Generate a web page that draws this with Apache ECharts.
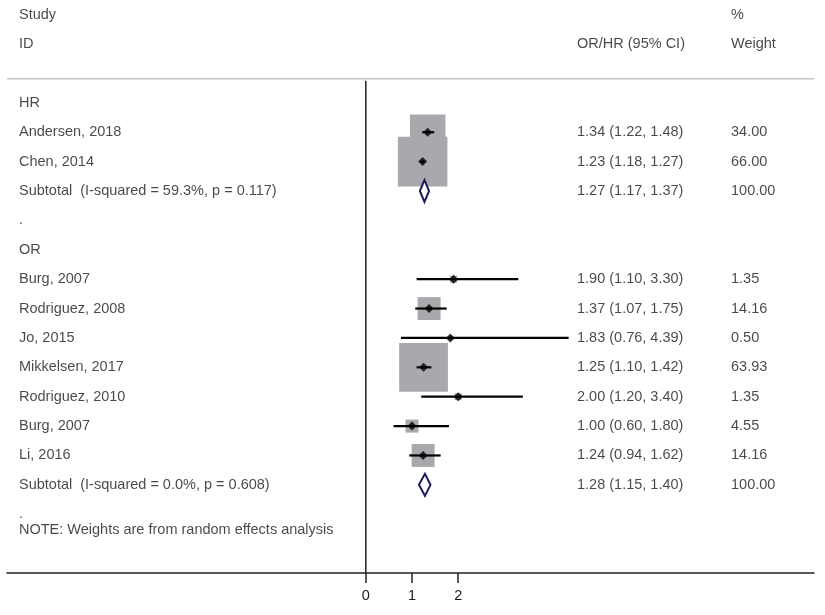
<!DOCTYPE html>
<html>
<head>
<meta charset="utf-8">
<script src="https://cdn.jsdelivr.net/npm/echarts@6/dist/echarts.min.js"></script>
<style>
  html, body { margin: 0; padding: 0; background: #fff; }
  #chart { width: 825px; height: 615px; }
</style>
</head>
<body>
<div id="chart"></div>
<script>
// study rows
const studies = ['Andersen, 2018', 'Chen, 2014', 'Burg, 2007', 'Rodriguez, 2008', 'Jo, 2015',
                 'Mikkelsen, 2017', 'Rodriguez, 2010', 'Burg, 2007', 'Li, 2016']
const studyRows = [1, 2, 6, 7, 8, 9, 10, 11, 12]
const estimate = [1.34, 1.23, 1.90, 1.37, 1.83, 1.25, 2.00, 1.00, 1.24]
const lower = [1.22, 1.18, 1.10, 1.07, 0.76, 1.10, 1.20, 0.60, 0.94]
const upper = [1.48, 1.27, 3.30, 1.75, 4.39, 1.42, 3.40, 1.80, 1.62]
const weights = [34.00, 66.00, 1.35, 14.16, 0.50, 63.93, 1.35, 4.55, 14.16]

// pooled rows
const subLabels = ['Subtotal  (I-squared = 59.3%, p = 0.117)', 'Subtotal  (I-squared = 0.0%, p = 0.608)']
const subRows = [3, 13]
const subEstimate = [1.27, 1.28]
const subLower = [1.17, 1.15]
const subUpper = [1.37, 1.40]
const subWeights = [100.00, 100.00]

// group headers and spacer rows
const groupLabels = ['HR', '.', 'OR', '.']
const groupRows = [0, 4, 5, 14]
const noteText = 'NOTE: Weights are from random effects analysis'

const xTicks = [0, 1, 2]

// layout (pixels)
const W = 825, H = 615
const plotLeft = 7, plotRight = 814
const zeroPx = 365.8, unitPx = 46.2
const colStudy = 19, colCI = 577, colWeight = 731
const font = 'Liberation Sans, Arial, sans-serif'
const fontSize = 14.5
const ink = '#1a1a1a'

const fmt = v => v.toFixed(2)

function textItem(x, row, text) {
    return { name: text, value: [x, row] }
}

const texts = [
    textItem(colStudy, -3, 'Study'),
    textItem(colStudy, -2, 'ID'),
    textItem(colWeight, -3, '%'),
    textItem(colCI, -2, 'OR/HR (95% CI)'),
    textItem(colWeight, -2, 'Weight'),
    textItem(colStudy, 14.55, noteText)
]
groupLabels.forEach((g, i) => texts.push(textItem(colStudy, groupRows[i], g)))
studies.forEach((s, i) => {
    texts.push(textItem(colStudy, studyRows[i], s))
    texts.push(textItem(colCI, studyRows[i], fmt(estimate[i]) + ' (' + fmt(lower[i]) + ', ' + fmt(upper[i]) + ')'))
    texts.push(textItem(colWeight, studyRows[i], fmt(weights[i])))
})
subLabels.forEach((s, i) => {
    texts.push(textItem(colStudy, subRows[i], s))
    texts.push(textItem(colCI, subRows[i], fmt(subEstimate[i]) + ' (' + fmt(subLower[i]) + ', ' + fmt(subUpper[i]) + ')'))
    texts.push(textItem(colWeight, subRows[i], fmt(subWeights[i])))
})

const xMin = (plotLeft - zeroPx) / unitPx
const xMax = (plotRight - zeroPx) / unitPx
const yAxisBase = { type: 'value', inverse: true, min: -3.5, max: 16, show: false }

const chart = echarts.init(document.getElementById('chart'), null, { renderer: 'canvas' })
chart.setOption({
    animation: false,
    backgroundColor: '#fff',
    grid: [
        { left: plotLeft, right: W - plotRight, top: 0, bottom: 42 },
        { left: 0, right: 0, top: 0, bottom: 42 }
    ],
    xAxis: [{
        type: 'value', gridIndex: 0, min: xMin, max: xMax, position: 'bottom',
        axisLine: { show: true, onZero: false, lineStyle: { color: '#222', width: 1.5 } },
        axisTick: { show: true, customValues: xTicks, length: 10, lineStyle: { color: '#222', width: 1.5 } },
        axisLabel: { show: true, customValues: xTicks, margin: 15, color: ink, fontFamily: font, fontSize: fontSize },
        splitLine: { show: false }
    }, {
        type: 'value', gridIndex: 1, min: 0, max: W, show: false
    }],
    yAxis: [
        Object.assign({ gridIndex: 0 }, yAxisBase),
        Object.assign({ gridIndex: 1 }, yAxisBase)
    ],
    series: [
        // header rule
        {
            type: 'line', xAxisIndex: 0, yAxisIndex: 0, silent: true, symbol: 'none',
            data: [[xMin, -0.82], [xMax, -0.82]],
            lineStyle: { color: '#c4c4c6', width: 1.5 }
        },
        // no-effect line at 0
        {
            type: 'line', xAxisIndex: 0, yAxisIndex: 0, silent: true, symbol: 'none',
            data: [[0, -0.75], [0, 16]],
            lineStyle: { color: '#222', width: 1.5 }
        },
        // weight boxes
        {
            type: 'custom', xAxisIndex: 0, yAxisIndex: 0, silent: true,
            data: estimate.map((e, i) => [e, studyRows[i], weights[i]]),
            renderItem: (params, api) => {
                const p = api.coord([api.value(0), api.value(1)])
                const s = 6.1 * Math.sqrt(api.value(2))
                return {
                    type: 'rect',
                    shape: { x: p[0] - s / 2, y: p[1] - s / 2, width: s, height: s },
                    style: { fill: '#a9a9ad' }
                }
            }
        },
        // confidence intervals
        {
            type: 'custom', xAxisIndex: 0, yAxisIndex: 0, silent: true,
            data: estimate.map((e, i) => [lower[i], upper[i], studyRows[i]]),
            renderItem: (params, api) => {
                const a = api.coord([api.value(0), api.value(2)])
                const b = api.coord([api.value(1), api.value(2)])
                return {
                    type: 'line',
                    shape: { x1: a[0], y1: a[1], x2: b[0], y2: b[1] },
                    style: { stroke: '#000', lineWidth: 2.2 }
                }
            }
        },
        // point estimates
        {
            type: 'scatter', xAxisIndex: 0, yAxisIndex: 0, silent: true,
            symbol: 'diamond', symbolSize: 9,
            data: estimate.map((e, i) => [e, studyRows[i]]),
            itemStyle: { color: '#000' }
        },
        // pooled diamonds
        {
            type: 'custom', xAxisIndex: 0, yAxisIndex: 0, silent: true,
            data: subEstimate.map((e, i) => [e, subLower[i], subUpper[i], subRows[i]]),
            renderItem: (params, api) => {
                const c = api.coord([api.value(0), api.value(3)])
                const l = api.coord([api.value(1), api.value(3)])
                const r = api.coord([api.value(2), api.value(3)])
                const h = 11
                return {
                    type: 'polygon',
                    shape: { points: [[l[0], c[1]], [c[0], c[1] - h], [r[0], c[1]], [c[0], c[1] + h]] },
                    style: { fill: '#fff', stroke: '#1c1c5e', lineWidth: 2 }
                }
            }
        },
        // table text
        {
            type: 'scatter', xAxisIndex: 1, yAxisIndex: 1, silent: true,
            symbolSize: 0,
            data: texts,
            label: {
                show: true, position: 'inside', align: 'left', verticalAlign: 'middle',
                formatter: '{b}', color: ink, fontFamily: font, fontSize: fontSize
            }
        }
    ]
})
</script>
</body>
</html>
